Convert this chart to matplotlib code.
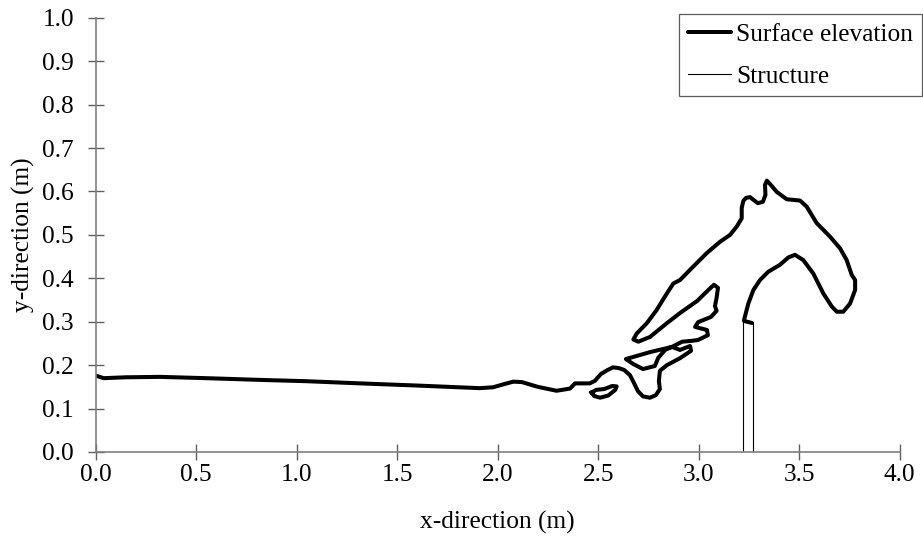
import matplotlib
matplotlib.use("Agg")
import matplotlib.pyplot as plt
import numpy as np

plt.rcParams["font.family"] = ["Liberation Serif", "DejaVu Serif"]
plt.rcParams["mathtext.fontset"] = "stix"

# Free-surface contour (x, y in metres), traced as one continuous outline
surface_x = [
    0.000, 0.040, 0.150, 0.320, 0.550, 0.820, 1.050, 1.315, 1.600, 1.910,
    1.977, 2.030, 2.078, 2.120, 2.200, 2.293, 2.360, 2.385, 2.459, 2.484,
    2.495, 2.515, 2.544, 2.574, 2.604, 2.629, 2.658, 2.678, 2.698, 2.723,
    2.758, 2.787, 2.807, 2.802, 2.807, 2.842, 2.907, 2.962, 2.957, 2.907,
    2.867, 2.758, 2.638, 2.673, 2.723, 2.782, 2.799, 2.833, 2.867,
    2.918, 2.967, 2.997, 3.046, 3.041, 2.982, 2.997, 3.061, 3.089, 3.081,
    3.089, 3.096, 3.076, 3.048, 2.993, 2.907, 2.840, 2.758, 2.700, 2.675,
    2.692, 2.741, 2.791, 2.832, 2.874, 2.907, 2.973, 3.040, 3.106, 3.156,
    3.189, 3.214, 3.214, 3.222, 3.235, 3.255, 3.274, 3.294, 3.319, 3.332,
    3.330, 3.339, 3.355, 3.388, 3.438, 3.504, 3.537, 3.587, 3.653, 3.703,
    3.736, 3.761, 3.778, 3.778, 3.753, 3.719, 3.687, 3.662, 3.620, 3.570,
    3.520, 3.479, 3.446, 3.404, 3.346, 3.305, 3.272, 3.247, 3.230, 3.225,
    3.265,
]
surface_y = [
    0.176, 0.170, 0.172, 0.173, 0.170, 0.166, 0.163, 0.158, 0.153, 0.147,
    0.149, 0.156, 0.162, 0.161, 0.150, 0.141, 0.146, 0.158, 0.158, 0.164,
    0.170, 0.180, 0.188, 0.195, 0.193, 0.189, 0.177, 0.159, 0.140, 0.128,
    0.125, 0.131, 0.145, 0.163, 0.187, 0.200, 0.216, 0.233, 0.244, 0.235,
    0.242, 0.230, 0.214, 0.203, 0.191, 0.198, 0.217, 0.235, 0.242,
    0.254, 0.256, 0.258, 0.269, 0.281, 0.288, 0.299, 0.311, 0.325, 0.336,
    0.355, 0.378, 0.385, 0.373, 0.348, 0.320, 0.296, 0.265, 0.254, 0.259,
    0.273, 0.296, 0.327, 0.358, 0.388, 0.396, 0.427, 0.458, 0.484, 0.500,
    0.519, 0.538, 0.562, 0.578, 0.585, 0.587, 0.580, 0.573, 0.576, 0.592,
    0.615, 0.625, 0.617, 0.599, 0.582, 0.579, 0.565, 0.527, 0.496, 0.469,
    0.442, 0.408, 0.396, 0.373, 0.342, 0.323, 0.323, 0.335, 0.365, 0.411,
    0.442, 0.454, 0.448, 0.431, 0.415, 0.396, 0.373, 0.342, 0.312, 0.302,
    0.297,
]

# Detached droplet near the toe of the breaking wave
drop_x = [2.467, 2.480, 2.510, 2.550, 2.585, 2.592, 2.570, 2.530, 2.490, 2.467]
drop_y = [0.137, 0.129, 0.125, 0.130, 0.143, 0.151, 0.152, 0.145, 0.143, 0.137]

# Vertical wall on the seabed
struct_left = 3.22
struct_right = 3.27
struct_height = 0.30

x_ticks = [0.0, 0.5, 1.0, 1.5, 2.0, 2.5, 3.0, 3.5, 4.0]
y_ticks = [0.0, 0.1, 0.2, 0.3, 0.4, 0.5, 0.6, 0.7, 0.8, 0.9, 1.0]

fig = plt.figure(figsize=(9.23, 5.37), dpi=100)
ax = fig.add_axes([0.1035, 0.1583, 0.8713, 0.8087])

line_surf, = ax.plot(surface_x, surface_y, color="black", lw=2.9,
                     solid_joinstyle="round", solid_capstyle="round",
                     label="Surface elevation")
ax.plot(drop_x, drop_y, color="black", lw=2.9, solid_joinstyle="round")

sx = [struct_left, struct_left, struct_right, struct_right]
sy = [0.0, struct_height, struct_height, 0.0]
line_struct, = ax.plot(sx, sy, color="black", lw=0.8, label="Structure")

ax.set_xlim(0.0, 4.0)
ax.set_ylim(0.0, 1.0)
ax.set_xticks(x_ticks)
ax.set_yticks(y_ticks)
ax.set_xticklabels([f"{v:.1f}" for v in x_ticks])
ax.set_yticklabels([f"{v:.1f}" for v in y_ticks])

for side in ("top", "right"):
    ax.spines[side].set_visible(False)
for side in ("left", "bottom"):
    ax.spines[side].set_color("#808080")
    ax.spines[side].set_linewidth(1.2)

ax.tick_params(axis="both", direction="inout", length=11, width=1.0,
               color="#606060", labelsize=18.3, labelcolor="black")
ax.tick_params(axis="x", pad=3)
ax.tick_params(axis="y", pad=10)

ax.set_xlabel("x-direction (m)", fontsize=18.3, labelpad=18)
ax.set_ylabel("y-direction (m)", fontsize=18.3, labelpad=5)

leg = ax.legend(handles=[line_surf, line_struct], loc="upper right",
                bbox_to_anchor=(922 / 923, 1 - 14 / 537),
                bbox_transform=fig.transFigure, borderaxespad=0,
                fontsize=18.3, frameon=True, fancybox=False,
                handlelength=1.7, handletextpad=0.2, labelspacing=0.75,
                borderpad=0.35)
leg.get_frame().set_edgecolor("#333333")
leg.get_frame().set_linewidth(0.9)

fig.savefig("out.png", dpi=100)
